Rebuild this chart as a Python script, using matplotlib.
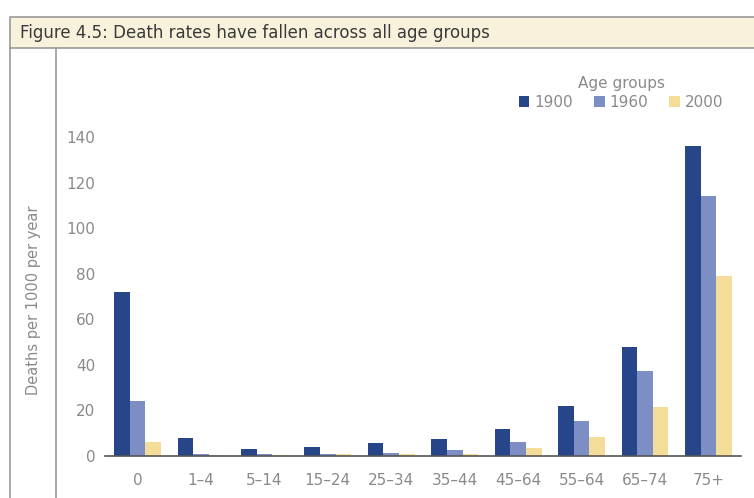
import numpy as np
import matplotlib.pyplot as plt
from matplotlib.patches import Rectangle
from matplotlib.lines import Line2D

# data
age_groups = ['0', '1–4', '5–14', '15–24', '25–34', '35–44', '45–64', '55–64', '65–74', '75+']
years = ['1900', '1960', '2000']
rate_1900 = [72, 8, 3, 4, 5.5, 7.5, 12, 22, 48, 136]
rate_1960 = [24, 1, 1, 1, 1.2, 2.6, 6, 15.5, 37.5, 114]
rate_2000 = [6, 0.5, 0.5, 0.8, 0.8, 1, 3.5, 8.5, 21.5, 79]
yticks = [0, 20, 40, 60, 80, 100, 120, 140]

colors = ['#27468a', '#7d8ec4', '#f4dd98']
grey = '#8a8a8a'

W, H = 754, 498
fig = plt.figure(figsize=(W / 100, H / 100), dpi=100)

# frame: title banner and left rules
fig.add_artist(Rectangle((10 / W, 1 - 48 / H), 1, 31 / H, transform=fig.transFigure,
                         facecolor='#f8f2dc', edgecolor='#9a9a9a', linewidth=1.2))
fig.add_artist(Line2D([10 / W, 10 / W], [0, 1 - 48 / H], transform=fig.transFigure,
                      color='#9a9a9a', linewidth=1.2))
fig.add_artist(Line2D([56 / W, 56 / W], [0, 1 - 48 / H], transform=fig.transFigure,
                      color='#9a9a9a', linewidth=1.2))
fig.text(20 / W, 1 - 33 / H, 'Figure 4.5: Death rates have fallen across all age groups',
         fontsize=12, color='#3a3a3a', va='center', ha='left')
fig.text(34 / W, 1 - 300 / H, 'Deaths per 1000 per year', rotation=90,
         fontsize=10.5, color=grey, va='center', ha='center')

ax = fig.add_axes([105 / W, 1 - 456 / H, 636 / W, 319 / H])
x = np.arange(len(age_groups))
bw = 0.245
for i, (vals, yr) in enumerate(zip([rate_1900, rate_1960, rate_2000], years)):
    ax.bar(x + (i - 1) * bw, vals, width=bw, color=colors[i], label=yr)

ax.set_xlim(-0.51, 9.51)
ax.set_ylim(0, 140)
ax.set_xticks(x)
ax.set_xticklabels(age_groups)
ax.set_yticks(yticks)
ax.tick_params(axis='x', length=0, pad=12, labelsize=11, labelcolor=grey)
ax.tick_params(axis='y', length=0, pad=7, labelsize=11, labelcolor=grey)
for s in ['top', 'right', 'left']:
    ax.spines[s].set_visible(False)
ax.spines['bottom'].set_color('#555555')
ax.spines['bottom'].set_linewidth(1.2)

leg = ax.legend(ncol=3, title='Age groups', frameon=False, loc='center',
                bbox_to_anchor=((621 - 105) / 636, (456 - 93) / 319),
                fontsize=11, title_fontsize=11, handlelength=0.7, handleheight=0.7,
                handletextpad=0.3, columnspacing=1.4, labelcolor=grey,
                borderpad=0, labelspacing=0.2)
leg.get_title().set_color(grey)

fig.savefig('out.png', dpi=100)
